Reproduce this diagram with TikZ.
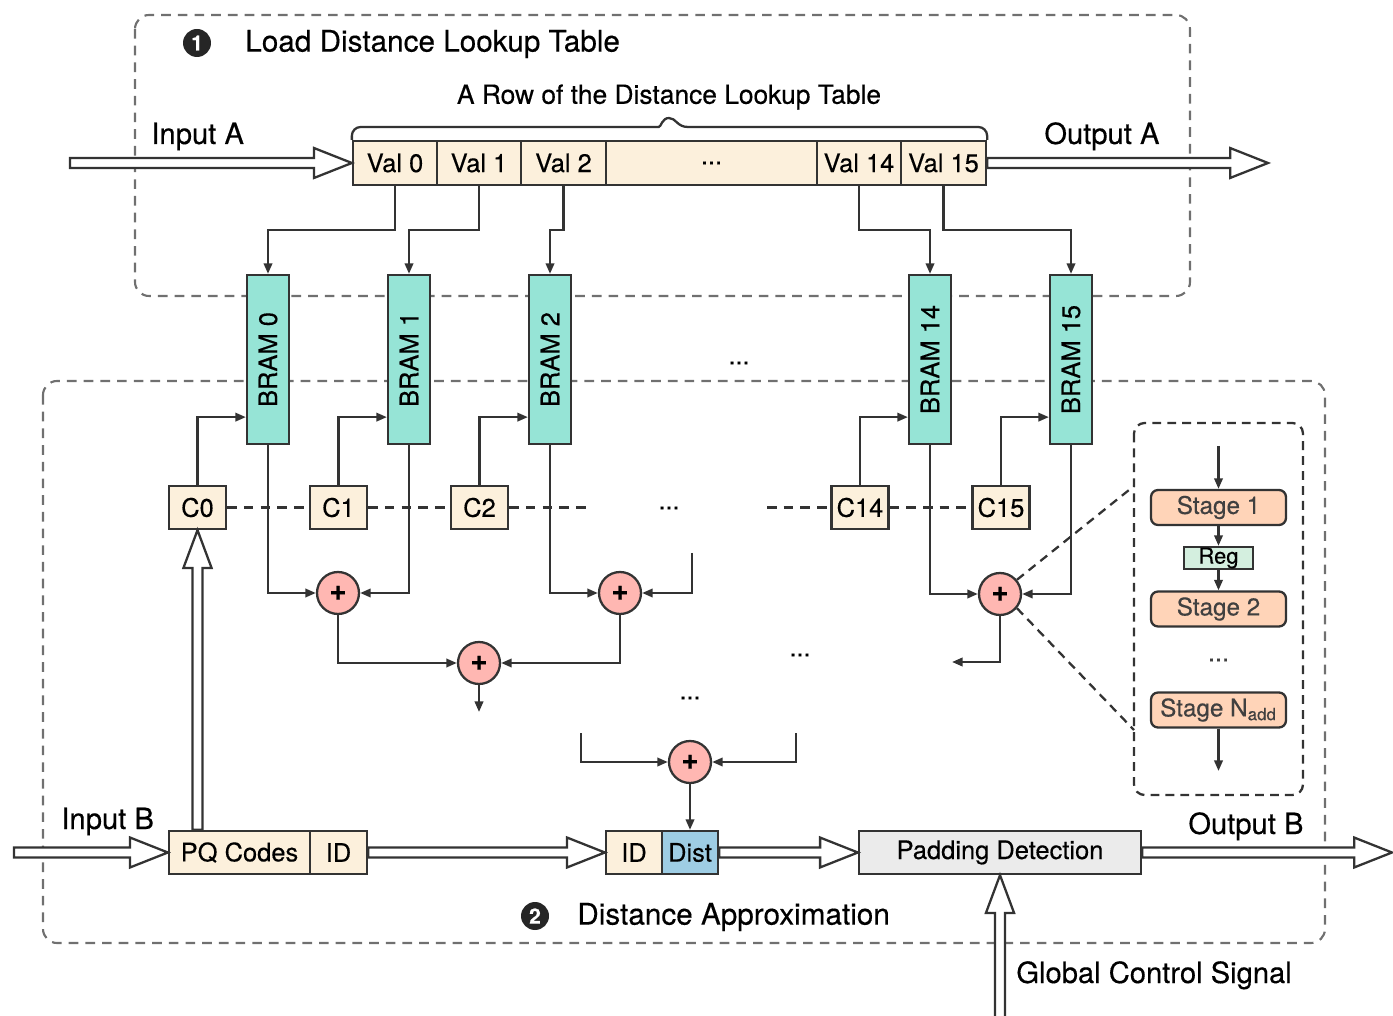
\documentclass[tikz,border=0pt]{standalone}
\usepackage{fontspec}
\setmainfont{TeX Gyre Heros}[FakeBold=0.35]
\usepackage{tikz}
\usetikzlibrary{arrows.meta, positioning, calc}

\definecolor{linedark}{HTML}{333333}
\definecolor{regiongray}{HTML}{707070}
\definecolor{cellcream}{HTML}{FCF0DC}
\definecolor{bramteal}{HTML}{96E4D6}
\definecolor{adderpink}{HTML}{FFB7B2}
\definecolor{distblue}{HTML}{9ECDE4}
\definecolor{padgray}{HTML}{EBEBEB}
\definecolor{stagepeach}{HTML}{FFD4B8}
\definecolor{reggreen}{HTML}{D4EFDF}

\newcommand{\boxfnt}{\fontsize{14.5}{17}\selectfont}
\newcommand{\labelfnt}{\fontsize{16.6}{19}\selectfont}

% hollow block arrows, left to right and bottom to top
\newcommand{\hflow}[2]{%
  \draw[flow] let \p1=#1, \p2=#2 in
    (\x1,{\y1+2.8pt}) -- ({\x2-21.5pt},{\y1+2.8pt}) -- ({\x2-21.5pt},{\y1+8.5pt})
    -- (\x2,\y1) -- ({\x2-21.5pt},{\y1-8.5pt}) -- ({\x2-21.5pt},{\y1-2.8pt})
    -- (\x1,{\y1-2.8pt}) -- cycle;}
\newcommand{\vflow}[2]{%
  \draw[flow] let \p1=#1, \p2=#2 in
    ({\x1-2.8pt},\y1) -- ({\x1-2.8pt},{\y2-21.5pt}) -- ({\x1-8pt},{\y2-21.5pt})
    -- (\x1,\y2) -- ({\x1+8pt},{\y2-21.5pt}) -- ({\x1+2.8pt},{\y2-21.5pt})
    -- ({\x1+2.8pt},\y1) -- cycle;}

\tikzset{
  region/.style={draw=regiongray, line width=1.2pt, dash pattern=on 5.5pt off 4pt, rounded corners=8pt},
  zoombox/.style={draw=linedark, line width=1.3pt, dash pattern=on 5pt off 3.5pt, rounded corners=6pt},
  zoomline/.style={draw=linedark, line width=1.3pt, dash pattern=on 5pt off 3.5pt},
  cbus/.style={draw=linedark, line width=1.3pt, dash pattern=on 5.5pt off 4pt},
  wire/.style={draw=linedark, line width=1.3pt, -{Triangle[length=6pt,width=4.8pt]}},
  plain/.style={draw=linedark, line width=1.3pt},
  flow/.style={draw=linedark, line width=1.3pt, fill=white, line join=miter},
  cell/.style={draw=linedark, line width=1.3pt, fill=cellcream, minimum height=0.88cm, inner sep=0pt, font=\boxfnt},
  bram/.style={draw=linedark, line width=1.3pt, fill=bramteal, minimum width=0.84cm, minimum height=3.38cm, inner sep=0pt, font=\boxfnt},
  cbox/.style={cell, minimum width=1.14cm, minimum height=0.86cm},
  adder/.style={circle, draw=linedark, line width=1.3pt, fill=adderpink, minimum size=0.84cm, inner sep=0pt, font=\fontsize{17}{17}\selectfont\bfseries},
  stagebox/.style={draw=linedark, line width=1.3pt, fill=stagepeach, rounded corners=4pt, minimum width=2.7cm, minimum height=0.7cm, inner sep=0pt, text=black!75, font=\fontsize{13.8}{16}\selectfont},
  regbox/.style={draw=linedark, line width=1.3pt, fill=reggreen, minimum width=1.38cm, minimum height=0.44cm, inner sep=0pt, font=\fontsize{12.5}{13}\selectfont},
  badge/.style={circle, fill=black!85, text=white, minimum size=0.56cm, inner sep=0pt, font=\fontsize{12}{12}\selectfont\bfseries},
  title/.style={inner sep=0pt, font=\labelfnt},
  dots/.style={inner sep=0pt, font=\boxfnt},
}

\begin{document}
\begin{tikzpicture}[x=0.02cm, y=-0.02cm]
  \useasboundingbox (0,0) rectangle (1393,1016);

  % regions
  \draw[region] (135,15) rectangle (1190,296);
  \draw[region] (43,381) rectangle (1325,943);

  % step 1: lookup table row
  \node[badge] (step1) at (197,43) {1};
  \node[title, anchor=west, font=\fontsize{16.9}{19}\selectfont] (loadtitle) at (245,44) {Load Distance Lookup Table};
  \node[title, font=\fontsize{15}{17}\selectfont] (rowname) at (669,97) {A Row of the Distance Lookup Table};
  \node[cell, minimum width=1.68cm] (v0) at (395,163) {Val 0};
  \node[cell, minimum width=1.68cm] (v1) at (479,163) {Val 1};
  \node[cell, minimum width=1.70cm] (v2) at (563.5,163) {Val 2};
  \node[cell, minimum width=4.22cm] (vdots) at (711.5,163) {...};
  \node[cell, minimum width=1.68cm] (v14) at (859,163) {Val 14};
  \node[cell, minimum width=1.70cm] (v15) at (943.5,163) {Val 15};
  \draw[plain] (v0.north west) [rounded corners=5pt] |- (650,127) [sharp corners]
    .. controls (661,127) and (662,118) .. (669,118)
    .. controls (676,118) and (677,127) .. (688,127) [rounded corners=5pt] -| (v15.north east);

  \node[title, anchor=base west] (inA) at (151,144) {Input A};
  \node[title, anchor=base west] (outA) at (1044,144) {Output A};
  \coordinate (inAstart) at (70,163);
  \coordinate (outAend) at (1268,163);
  \hflow{(inAstart)}{(v0.west)}
  \hflow{(v15.east)}{(outAend)}

  % BRAMs
  \node[bram] (b0) at (268,359.5) {\rotatebox{90}{BRAM 0}};
  \node[bram] (b1) at (409,359.5) {\rotatebox{90}{BRAM 1}};
  \node[bram] (b2) at (550,359.5) {\rotatebox{90}{BRAM 2}};
  \node[bram] (b14) at (930,359.5) {\rotatebox{90}{BRAM 14}};
  \node[bram] (b15) at (1071,359.5) {\rotatebox{90}{BRAM 15}};
  \node[dots] (bdots) at (739,363) {...};

  \coordinate (tapline) at (0,230);
  \foreach \v/\b in {v0/b0, v1/b1, v2/b2, v14/b14, v15/b15}
    \draw[wire] (\v.south) -- (\v.south |- tapline) -| (\b.north);

  % codebook ids
  \node[cbox] (c0) at (197.5,507.5) {C0};
  \node[cbox] (c1) at (338.5,507.5) {C1};
  \node[cbox] (c2) at (479.5,507.5) {C2};
  \node[cbox] (c14) at (860,507.5) {C14};
  \node[cbox] (c15) at (1001,507.5) {C15};
  \node[dots] (cdots) at (669,508) {...};
  \coordinate (cbusA) at (587,507.5);
  \coordinate (cbusB) at (767,507.5);
  \draw[cbus] (c0.east) -- (c1.west) (c1.east) -- (c2.west) (c2.east) -- (cbusA)
              (cbusB) -- (c14.west) (c14.east) -- (c15.west);
  \foreach \c/\b in {c0/b0, c1/b1, c2/b2, c14/b14, c15/b15}
    \draw[wire] (\c.north) |- ($(\b.south west)+(0,-28)$);

  % adder tree
  \node[adder] (a01) at (338,593) {+};
  \node[adder] (a23) at (620,593) {+};
  \node[adder] (a03) at (479,663) {+};
  \node[adder] (a1415) at (1000,594) {+};
  \node[adder] (afinal) at (690,762) {+};
  \node[dots] (adots1) at (800,655) {...};
  \node[dots] (adots2) at (690,698) {...};

  \draw[wire] (b0.south) |- (a01.west);
  \draw[wire] (b1.south) |- (a01.east);
  \draw[wire] (b2.south) |- (a23.west);
  \coordinate (b3in) at (692,553);
  \draw[wire] (b3in) |- (a23.east);
  \draw[wire] (a01.south) |- (a03.west);
  \draw[wire] (a23.south) |- (a03.east);
  \coordinate (a03out) at (479,712);
  \draw[wire] (a03.south) -- (a03out);
  \draw[wire] (b14.south) |- (a1415.west);
  \draw[wire] (b15.south) |- (a1415.east);
  \coordinate (a1415out) at (952,662);
  \draw[wire] (a1415.south) |- (a1415out);
  \coordinate (finL) at (581,733);
  \coordinate (finR) at (796,733);
  \draw[wire] (finL) |- (afinal.west);
  \draw[wire] (finR) |- (afinal.east);

  % adder pipeline detail
  \draw[zoombox] (1134,423) rectangle (1303,795);
  \coordinate (zoomtop) at (1134,486);
  \coordinate (zoombot) at (1134,730);
  \draw[zoomline] (a1415.40) -- (zoomtop);
  \draw[zoomline] (a1415.-40) -- (zoombot);
  \node[stagebox] (s1) at (1218.5,507.5) {Stage 1};
  \node[regbox] (reg) at (1218.5,558) {Reg};
  \node[stagebox] (s2) at (1218.5,609) {Stage 2};
  \node[dots, text=black!75] (sdots) at (1218.5,660) {...};
  \node[stagebox] (sn) at (1218.5,710) {Stage N\textsubscript{add}};
  \coordinate (pipein) at (1218.5,446);
  \coordinate (pipeout) at (1218.5,771);
  \draw[wire] (pipein) -- (s1.north);
  \draw[wire] (s1.south) -- (reg.north);
  \draw[wire] (reg.south) -- (s2.north);
  \draw[wire] (sn.south) -- (pipeout);

  % step 2: query stream
  \node[cell, minimum width=2.82cm, minimum height=0.86cm] (pq) at (239.5,852.5) {PQ Codes};
  \node[cell, minimum width=1.14cm, minimum height=0.86cm] (id1) at (338.5,852.5) {ID};
  \node[cell, minimum width=1.12cm, minimum height=0.86cm] (id2) at (634,852.5) {ID};
  \node[cell, fill=distblue, minimum width=1.12cm, minimum height=0.86cm] (dist) at (690,852.5) {Dist};
  \node[cell, fill=padgray, minimum width=5.64cm, minimum height=0.86cm] (pad) at (1000,852.5) {Padding Detection};
  \draw[wire] (afinal.south) -- (dist.north);

  \node[title, anchor=base west] (inB) at (61,829) {Input B};
  \node[title, anchor=base west] (outB) at (1188,834) {Output B};
  \node[title, anchor=base west] (ctrl) at (1016,983) {Global Control Signal};
  \coordinate (inBstart) at (14,852.5);
  \coordinate (outBend) at (1392,852.5);
  \coordinate (ctrlstart) at (1000,1020);
  \hflow{(inBstart)}{(pq.west)}
  \hflow{(id1.east)}{(id2.west)}
  \hflow{(dist.east)}{(pad.west)}
  \hflow{(pad.east)}{(outBend)}
  \vflow{(c0 |- pq.north)}{(c0.south)}
  \vflow{(ctrlstart)}{(pad.south)}

  \node[badge] (step2) at (535,916) {2};
  \node[title, anchor=west, font=\fontsize{16.9}{19}\selectfont] (approxtitle) at (577,917) {Distance Approximation};
\end{tikzpicture}
\end{document}
